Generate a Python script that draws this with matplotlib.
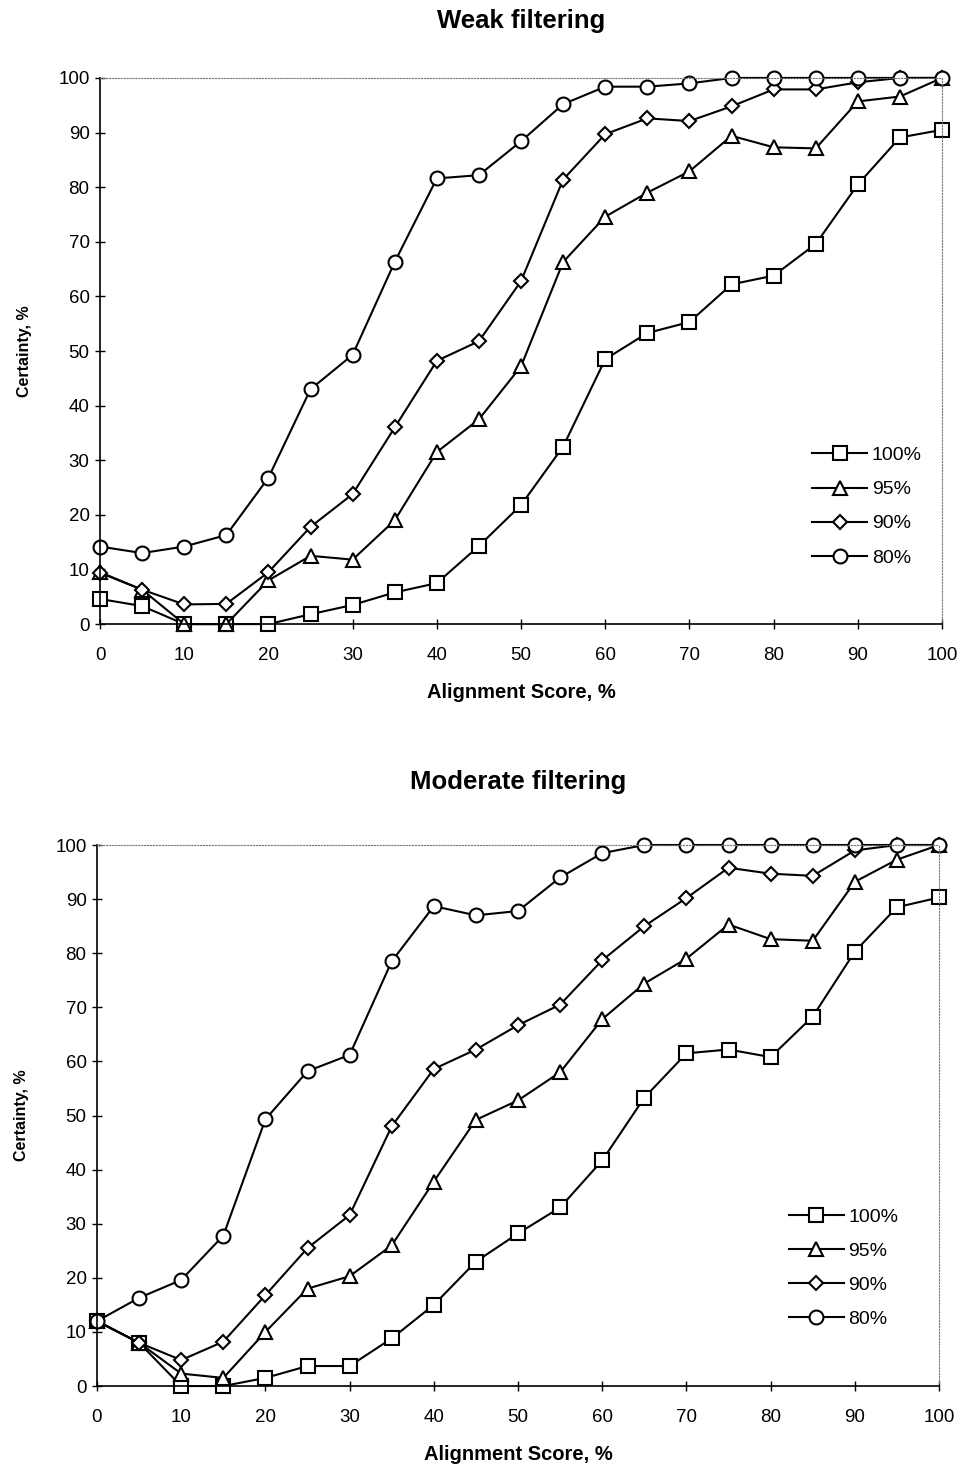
import numpy as np
import matplotlib
matplotlib.use('Agg')
import matplotlib.pyplot as plt

plt.rcParams['font.family'] = ['Liberation Sans', 'DejaVu Sans']

score = list(range(0, 101, 5))
labels = ['100%', '95%', '90%', '80%']
markers = ['s', '^', 'D', 'o']
msizes = [10, 10, 7, 10]

# Weak filtering
weak_100 = [4.6, 3.3, 0, 0, 0, 1.8, 3.5, 5.8, 7.5, 14.3, 21.8, 32.5, 48.5, 53.3, 55.3, 62.2, 63.8, 69.6, 80.5, 89.1, 90.5]
weak_95 = [9.5, 6.3, 0, 0, 8, 12.5, 11.8, 19, 31.5, 37.5, 47.2, 66.3, 74.6, 79, 82.9, 89.4, 87.3, 87.1, 95.7, 96.6, 100]
weak_90 = [9.4, 6.3, 3.6, 3.7, 9.5, 17.8, 23.8, 36, 48.2, 51.8, 62.8, 81.4, 89.7, 92.6, 92.1, 94.8, 97.9, 97.9, 99.2, 100, 100]
weak_80 = [14.2, 13, 14.2, 16.3, 26.8, 43, 49.3, 66.3, 81.6, 82.2, 88.4, 95.2, 98.4, 98.4, 99, 100, 100, 100, 100, 100, 100]

# Moderate filtering
mod_100 = [12, 8, 0, 0, 1.5, 3.7, 3.7, 8.8, 15, 23, 28.2, 33, 41.7, 53.3, 61.5, 62.2, 60.8, 68.3, 80.3, 88.5, 90.3]
mod_95 = [12, 8, 2.3, 1.5, 10, 18, 20.3, 26, 37.8, 49.2, 52.8, 58, 67.8, 74.4, 79, 85.3, 82.6, 82.3, 93.2, 97.3, 100]
mod_90 = [12, 8, 4.8, 8.2, 16.8, 25.5, 31.6, 48, 58.6, 62.2, 66.7, 70.5, 78.7, 85, 90.2, 95.8, 94.7, 94.3, 99, 100, 100]
mod_80 = [12, 16.3, 19.6, 27.8, 49.3, 58.2, 61.2, 78.5, 88.7, 87, 87.8, 94, 98.5, 100, 100, 100, 100, 100, 100, 100, 100]


def draw(ax, series, title, title_pad, leg_anchor):
    for vals, lab, m, ms in zip(series, labels, markers, msizes):
        ax.plot(score, vals, color='black', lw=1.5, marker=m, ms=ms,
                mfc='white', mec='black', mew=1.5, label=lab, clip_on=False)
    ax.set_xlim(0, 100)
    ax.set_ylim(0, 100)
    ax.set_xticks(np.arange(0, 101, 10))
    ax.set_yticks(np.arange(0, 101, 10))
    ax.tick_params(direction='inout', length=7, width=1, labelsize=13.5)
    ax.tick_params(axis='x', pad=13)
    ax.tick_params(axis='y', pad=4)
    ax.spines['top'].set_linestyle(':')
    ax.spines['top'].set_color('#777777')
    ax.spines['right'].set_linestyle(':')
    ax.spines['right'].set_color('#777777')
    ax.spines['left'].set_linewidth(1.2)
    ax.spines['bottom'].set_linewidth(1.2)
    ax.set_title(title, fontsize=18.5, fontweight='bold', pad=title_pad)
    ax.set_xlabel('Alignment Score, %', fontsize=14.5, fontweight='bold', labelpad=14)
    ax.set_ylabel('Certainty, %', fontsize=11.5, fontweight='bold', labelpad=19)
    ax.legend(loc='upper left', bbox_to_anchor=leg_anchor, frameon=False,
              borderpad=0, borderaxespad=0,
              fontsize=14, handlelength=2.8, labelspacing=0.85, handletextpad=0.25)


fig = plt.figure(figsize=(9.69, 14.65), dpi=100)
ax1 = fig.add_axes([0.1032, 0.574, 0.869, 0.3728])
ax2 = fig.add_axes([0.1001, 0.0539, 0.869, 0.3693])

draw(ax1, [weak_100, weak_95, weak_90, weak_80], 'Weak filtering', 36, (0.846, 0.325))
draw(ax2, [mod_100, mod_95, mod_90, mod_80], 'Moderate filtering', 40, (0.822, 0.329))

fig.savefig('out.png', dpi=100)
